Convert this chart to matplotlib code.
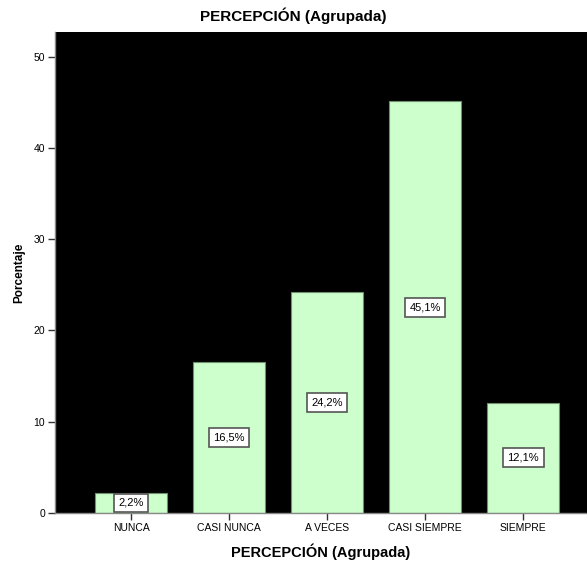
import matplotlib
matplotlib.use("Agg")
import matplotlib.pyplot as plt

categories = ["NUNCA", "CASI NUNCA", "A VECES", "CASI SIEMPRE", "SIEMPRE"]
percentages = [2.2, 16.5, 24.2, 45.1, 12.1]
y_ticks = [0, 10, 20, 30, 40, 50]

font = ["Liberation Sans", "DejaVu Sans"]

fig = plt.figure(figsize=(5.87, 5.69), dpi=100)
ax = fig.add_axes([55 / 587, 1 - 513 / 569, 532 / 587, 481 / 569])
ax.set_facecolor("black")

x = list(range(len(categories)))
ax.bar(x, percentages, width=0.735, color="#ccffcc", edgecolor="#6f8f6f", linewidth=0.8, zorder=2)

for xi, v in zip(x, percentages):
    label = f"{v:.1f}%".replace(".", ",")
    ax.text(xi, v / 2, label, ha="center", va="center", fontsize=8, family=font, zorder=3,
            bbox=dict(boxstyle="square,pad=0.4", facecolor="white", edgecolor="#555555", linewidth=1.2))

ax.set_xlim(-0.776, 4.65)
ax.set_ylim(0, 52.7)
ax.set_xticks(x)
ax.set_xticklabels(categories, family=font, fontsize=7.5)
ax.set_yticks(y_ticks)
ax.set_yticklabels([str(t) for t in y_ticks], family=font, fontsize=7.5)
ax.tick_params(axis="both", length=5, width=1, color="#333333", pad=2)

for side in ["top", "right"]:
    ax.spines[side].set_visible(False)
for side in ["left", "bottom"]:
    ax.spines[side].set_color("#888888")
    ax.spines[side].set_linewidth(1)

ax.set_ylabel("Porcentaje", family=font, fontsize=8.5, fontweight="bold")
ax.yaxis.set_label_coords(-30 / 532, 0.5)
ax.set_xlabel("PERCEPCIÓN (Agrupada)", family=font, fontsize=10.5, fontweight="bold")
ax.xaxis.set_label_coords(0.5, -31 / 481)
fig.text(0.5, 1 - 16 / 569, "PERCEPCIÓN (Agrupada)", ha="center", va="center",
         family=font, fontsize=11, fontweight="bold")

fig.savefig("out.png", dpi=100, facecolor="white")
